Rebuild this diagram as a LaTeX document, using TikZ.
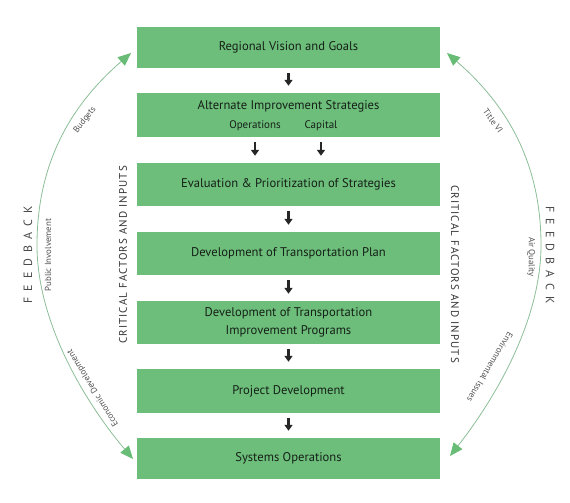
\documentclass[tikz,border=0pt]{standalone}
\usepackage{fontspec}
\setmainfont{PT Sans}
\newfontfamily\capsfont[LetterSpace=10]{PT Sans}
\usetikzlibrary{arrows.meta}
\definecolor{boxgreen}{RGB}{108,190,122}
\definecolor{arcgreen}{RGB}{140,190,150}
\definecolor{tipgreen}{RGB}{105,188,118}
\definecolor{boxtext}{RGB}{22,32,24}
\definecolor{labelgray}{RGB}{80,80,80}
\tikzset{
  stagebox/.style={fill=boxgreen, draw=none, minimum width=303pt, inner sep=0pt, text=boxtext, font=\fontsize{12.6}{18}\selectfont, align=center},
  subtext/.style={text=boxtext, font=\fontsize{11}{12}\selectfont, inner sep=0pt},
  flowarrow/.style={line width=2.4pt, black!85, -{Triangle[width=8pt,length=6pt]}, shorten <=5pt, shorten >=7pt},
  fbarc/.style={arcgreen, line width=0.8pt, {Triangle[width=11pt,length=13pt,color=tipgreen,fill=tipgreen]}-{Triangle[width=11pt,length=13pt,color=tipgreen,fill=tipgreen]}},
  arclabel/.style={text=labelgray, font=\fontsize{8.8}{10}\selectfont, inner sep=0pt},
  fbword/.style={text=labelgray!90!black, font=\fontsize{12}{13}\selectfont, inner sep=0pt},
  critical/.style={text=black!80, font=\capsfont\fontsize{11}{12}\selectfont, inner sep=0pt}
}
\newcommand{\fbtext}{F\hspace{6pt}E\hspace{6pt}E\hspace{6pt}D\hspace{6pt}B\hspace{6pt}A\hspace{6pt}C\hspace{6pt}K}
\begin{document}
\begin{tikzpicture}[x=1pt,y=1pt]
\useasboundingbox (0,0) rectangle (570,503);
% stage boxes
\node[stagebox, minimum height=41pt] (b1) at (288.5,455.5) {Regional Vision and Goals};
\node[stagebox, minimum height=44pt] (b2) at (288.5,388) {};
\node[text=boxtext, font=\fontsize{12.6}{14}\selectfont, inner sep=0pt] (b2t) at (288.5,397) {Alternate Improvement Strategies};
\node[subtext] (ops) at (255,377) {Operations};
\node[subtext] (cap) at (321,377) {Capital};
\node[stagebox, minimum height=43pt] (b3) at (288.5,318.5) {Evaluation \& Prioritization of Strategies};
\node[stagebox, minimum height=43pt] (b4) at (288.5,249.5) {Development of Transportation Plan};
\node[stagebox, minimum height=43pt] (b5) at (288.5,180.5) {Development of Transportation\\Improvement Programs};
\node[stagebox, minimum height=44pt] (b6) at (288.5,112) {Project Development};
\node[stagebox, minimum height=41pt] (b7) at (288.5,44.5) {Systems Operations};
% flow arrows
\draw[flowarrow] (b1) -- (b2);
\draw[flowarrow] (b2.south -| ops) -- (b3.north -| ops);
\draw[flowarrow] (b2.south -| cap) -- (b3.north -| cap);
\draw[flowarrow] (b3) -- (b4);
\draw[flowarrow] (b4) -- (b5);
\draw[flowarrow] (b5) -- (b6);
\draw[flowarrow] (b6) -- (b7);
% critical factors
\node[critical, rotate=90] (cfl) at (123,248) {CRITICAL FACTORS AND INPUTS};
\node[critical, rotate=-90] (cfr) at (455,229) {CRITICAL FACTORS AND INPUTS};
% feedback arcs
\coordinate (lt) at (131,450);
\coordinate (lm) at (37,258);
\coordinate (lb) at (133,44);
\coordinate (rt) at (447,450);
\coordinate (rm) at (541,258);
\coordinate (rb) at (450,47);
\draw[fbarc] (lt) .. controls (78,404) and (37,348) .. (lm) .. controls (37,178) and (88,97) .. (lb);
\draw[fbarc] (rt) .. controls (500,404) and (541,348) .. (rm) .. controls (541,178) and (490,98) .. (rb);
% left labels
\node[arclabel, rotate=52] (bud) at (85,383) {Budgets};
\node[arclabel, rotate=90] (pub) at (48,248) {Public Involvement};
\node[fbword, rotate=90] (fbl) at (28,248) {\fbtext};
\node[arclabel, rotate=122] (eco) at (93,115) {Economic Development};
% right labels
\node[arclabel, rotate=-54] (tvi) at (493,382) {Title VI};
\node[arclabel, rotate=-90] (air) at (531,246) {Air Quality};
\node[fbword, rotate=-90] (fbr) at (550,248) {\fbtext};
\node[arclabel, rotate=-121] (env) at (490,136) {Environmental Issues};
\end{tikzpicture}
\end{document}
